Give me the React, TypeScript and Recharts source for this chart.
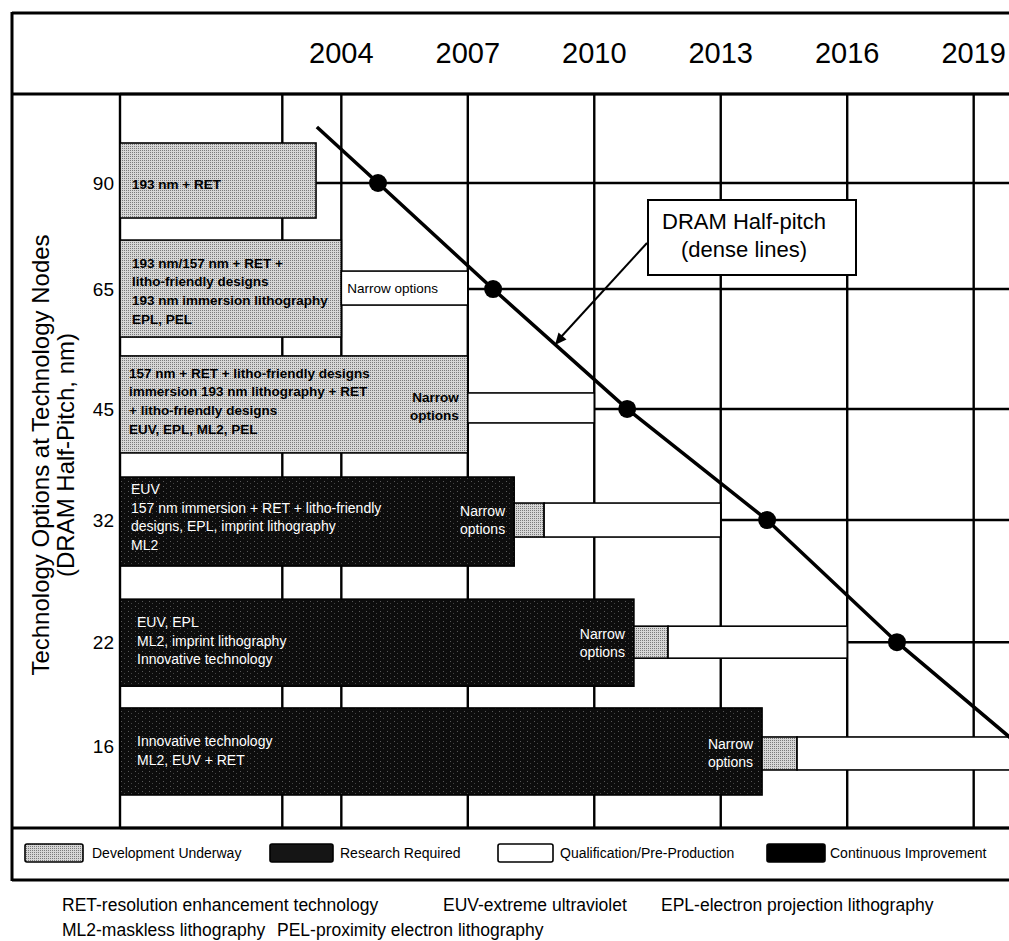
import React from 'react';
import { ComposedChart, XAxis, YAxis, CartesianGrid, ReferenceArea, Line } from 'recharts';

// ---------- data ----------
const nodes = [90, 65, 45, 32, 22, 16];
const yearLabels = [2004, 2007, 2010, 2013, 2016, 2019];
const gridYears = [1998.75, 2002.6, 2004, 2007, 2010, 2013, 2016, 2019];
const X_DOMAIN: [number, number] = [1998.75, 2021];
const Y_DOMAIN: [number, number] = [12.44, 118.26];

// DRAM half-pitch trend line
const trendYears = [2003.42, 2004.87, 2007.6, 2010.78, 2014.1, 2017.18, 2020.1];
const trendNodes = [106.9, 90, 65, 45, 32, 22, 16];
const trendIsNode = [false, true, true, true, true, true, true];

// phases per node row
const mainPhase = ['dev', 'dev', 'dev', 'research', 'research', 'research'];
const mainEnd = [2003.4, 2004, 2007, 2008.1, 2010.94, 2013.98];
const devEnd: (number | null)[] = [null, null, null, 2008.81, 2011.75, 2014.81];
const qualEnd: (number | null)[] = [null, 2007, 2010, 2013, 2016, 2021];
const narrowInQualBox = [false, true, false, false, false, false];
const narrowInMain = [false, false, true, true, true, true];

const optionLines: string[][] = [
  ['193 nm + RET'],
  ['193 nm/157 nm + RET +', 'litho-friendly designs', '193 nm immersion lithography', 'EPL, PEL'],
  ['157 nm + RET + litho-friendly designs', 'immersion 193 nm lithography + RET', '+ litho-friendly designs', 'EUV, EPL, ML2, PEL'],
  ['EUV', '157 nm immersion + RET + litho-friendly', 'designs, EPL, imprint lithography', 'ML2'],
  ['EUV, EPL', 'ML2, imprint lithography', 'Innovative technology'],
  ['Innovative technology', 'ML2, EUV + RET'],
];

const legendNames = ['Development Underway', 'Research Required', 'Qualification/Pre-Production', 'Continuous Improvement'];
const legendKinds = ['dev', 'research', 'qual', 'continuous'];

const footLine1 = ['RET-resolution enhancement technology', 'EUV-extreme ultraviolet', 'EPL-electron projection lithography'];
const footLine2 = ['ML2-maskless lithography', 'PEL-proximity electron lithography'];

const trendData = trendYears.map((year, i) => ({ year, node: trendNodes[i], isNode: trendIsNode[i] }));

// ---------- styles ----------
const FONT = '"Liberation Sans", Arial, Helvetica, sans-serif';
const mainBand = [[40, 35], [49, 48], [53, 44], [43, 46], [43, 44], [38, 49]];
const smallBand = [[0, 0], [18, 16], [16, 14], [17, 17], [16, 16], [9, 24]];
const textPadX = [12, 12, 9, 11, 17, 17];
const textFirst = [41, 23, 17, 12, 23, 33];
const textStep = 18.7;
const narrowDy = [0, 0, -12, -9, -8, -2];

const fillFor = (kind: string) =>
  kind === 'dev' ? 'url(#halftone)' : kind === 'research' ? 'url(#speckle)' : kind === 'qual' ? '#ffffff' : '#000000';

type Seg = { row: number; node: number; kind: string; start: number; end: number; role: 'main' | 'dev' | 'qual' };
const segments: Seg[] = [];
nodes.forEach((node, row) => {
  segments.push({ row, node, kind: mainPhase[row], start: X_DOMAIN[0], end: mainEnd[row], role: 'main' });
  let s = mainEnd[row];
  const d = devEnd[row];
  if (d != null) {
    segments.push({ row, node, kind: 'dev', start: s, end: d, role: 'dev' });
    s = d;
  }
  const q = qualEnd[row];
  if (q != null) segments.push({ row, node, kind: 'qual', start: s, end: q, role: 'qual' });
});

const makeShape = (seg: Seg) => (p: any) => {
  const x = p.x as number;
  const y = p.y as number;
  const w = p.width as number;
  const band = seg.role === 'main' ? mainBand[seg.row] : smallBand[seg.row];
  const top = y - band[0];
  const h = band[0] + band[1];
  const dark = seg.kind === 'research';
  const col = dark ? '#ffffff' : '#000000';
  const weight = dark ? 400 : 700;
  const fs = dark ? 14 : 13.5;
  return (
    <g>
      <rect x={x} y={top} width={w} height={h} fill={fillFor(seg.kind)} stroke="#000" strokeWidth={1.6} />
      {seg.role === 'main' &&
        optionLines[seg.row].map((t, i) => (
          <text key={i} x={x + textPadX[seg.row]} y={top + textFirst[seg.row] + i * textStep} dy="0.35em"
            fontFamily={FONT} fontSize={fs} fontWeight={weight} fill={col}>{t}</text>
        ))}
      {seg.role === 'main' && narrowInMain[seg.row] && (
        <g>
          <text x={x + w - 9} y={y + narrowDy[seg.row]} dy="0.35em" textAnchor="end" fontFamily={FONT}
            fontSize={fs} fontWeight={weight} fill={col}>Narrow</text>
          <text x={x + w - 9} y={y + narrowDy[seg.row] + 18} dy="0.35em" textAnchor="end" fontFamily={FONT}
            fontSize={fs} fontWeight={weight} fill={col}>options</text>
        </g>
      )}
      {seg.role === 'qual' && narrowInQualBox[seg.row] && (
        <text x={x + 6} y={top + h / 2} dy="0.35em" fontFamily={FONT} fontSize={13.5} fill="#000">Narrow options</text>
      )}
    </g>
  );
};

const YearTick = (p: any) => {
  const v = p.payload?.value;
  if (!yearLabels.includes(v)) return <g />;
  return (
    <text x={p.x} y={p.y - 31} textAnchor="middle" fontFamily={FONT} fontSize={29} fill="#000">{v}</text>
  );
};

const NodeTick = (p: any) => (
  <text x={p.x - 6} y={p.y} dy="0.35em" textAnchor="end" fontFamily={FONT} fontSize={19} fill="#000">{p.payload?.value}</text>
);

const TrendDot = (p: any) => {
  if (!p.payload?.isNode) return <g key={p.index} />;
  return <circle key={p.index} cx={p.cx} cy={p.cy} r={9} fill="#000" />;
};

const legendX = [25, 270, 498, 767];
const legendW = [58, 63, 55, 58];
const legendTextX = [92, 340, 560, 830];
const foot1X = [62, 443, 661];
const foot2X = [62, 277];

export default function App() {
  return (
    <div style={{ position: 'absolute', left: 0, top: 0, width: 1009, height: 941, overflow: 'hidden', background: '#fff' }}>
      <div style={{ position: 'absolute', left: 0, top: 0 }}>
        <ComposedChart width={1060} height={941} data={trendData} margin={{ top: 0, right: 2, bottom: 113, left: 0 }}>
          <defs>
            <pattern id="halftone" width="2" height="2" patternUnits="userSpaceOnUse">
              <rect width="2" height="2" fill="#d6d6d6" />
              <rect width="1" height="1" fill="#7a7a7a" />
            </pattern>
            <pattern id="speckle" width="7" height="5" patternUnits="userSpaceOnUse">
              <rect width="7" height="5" fill="#0d0d0d" />
              <rect x="2" y="1" width="1" height="1" fill="#5a5a5a" />
              <rect x="5" y="3" width="1" height="1" fill="#444" />
            </pattern>
          </defs>
          <CartesianGrid stroke="#000" strokeWidth={2.4} />
          <XAxis type="number" dataKey="year" orientation="top" domain={X_DOMAIN} allowDataOverflow
            ticks={gridYears} interval={0} height={94} axisLine={false} tickLine={false} tickSize={0} tickMargin={0}
            tick={<YearTick />} />
          <YAxis type="number" scale="log" domain={Y_DOMAIN} allowDataOverflow ticks={nodes} interval={0}
            width={120} axisLine={false} tickLine={false} tickSize={0} tickMargin={0} tick={<NodeTick />} />
          {segments.map((seg, i) => (
            <ReferenceArea key={i} x1={seg.start} x2={seg.end} y1={seg.node} y2={seg.node}
              ifOverflow="visible" shape={makeShape(seg)} />
          ))}
          <Line dataKey="node" type="linear" stroke="#000" strokeWidth={3.5} dot={TrendDot} activeDot={false}
            isAnimationActive={false} />
        </ComposedChart>
      </div>
      <svg width={1009} height={941} style={{ position: 'absolute', left: 0, top: 0, pointerEvents: 'none' }}>
        <defs>
          <pattern id="halftone2" width="2" height="2" patternUnits="userSpaceOnUse">
            <rect width="2" height="2" fill="#d6d6d6" />
            <rect width="1" height="1" fill="#7a7a7a" />
          </pattern>
        </defs>
        {/* frame */}
        <line x1={12} y1={13} x2={1009} y2={13} stroke="#000" strokeWidth={3} />
        <line x1={12} y1={12} x2={12} y2={881} stroke="#000" strokeWidth={3} />
        <line x1={12} y1={94} x2={1009} y2={94} stroke="#000" strokeWidth={3} />
        <line x1={12} y1={828} x2={1009} y2={828} stroke="#000" strokeWidth={3} />
        <line x1={12} y1={880} x2={1009} y2={880} stroke="#000" strokeWidth={3} />
        {/* y axis title */}
        <g transform="translate(49,455) rotate(-90)">
          <text x={0} y={0} textAnchor="middle" fontFamily={FONT} fontSize={24} fill="#000">Technology Options at Technology Nodes</text>
        </g>
        <g transform="translate(74,455) rotate(-90)">
          <text x={0} y={0} textAnchor="middle" fontFamily={FONT} fontSize={24} fill="#000">(DRAM Half-Pitch, nm)</text>
        </g>
        {/* callout */}
        <line x1={647} y1={243} x2={561} y2={337} stroke="#000" strokeWidth={2} />
        <polygon points="555,345 566.5,339.5 558.5,332.5" fill="#000" />
        <rect x={648} y={200} width={208} height={75} fill="#fff" stroke="#000" strokeWidth={2} />
        <text x={744} y={229} textAnchor="middle" fontFamily={FONT} fontSize={22} fill="#000">DRAM Half-pitch</text>
        <text x={744} y={257} textAnchor="middle" fontFamily={FONT} fontSize={22} fill="#000">(dense lines)</text>
        {/* legend */}
        {legendKinds.map((k, i) => (
          <g key={k}>
            <rect x={legendX[i]} y={844} width={legendW[i]} height={18} rx={2}
              fill={k === 'dev' ? 'url(#halftone2)' : k === 'research' ? '#151515' : k === 'qual' ? '#fff' : '#000'}
              stroke="#000" strokeWidth={1.6} />
            <text x={legendTextX[i]} y={858} fontFamily={FONT} fontSize={14} fill="#000">{legendNames[i]}</text>
          </g>
        ))}
        {/* footnotes */}
        {footLine1.map((t, i) => (
          <text key={t} x={foot1X[i]} y={911} fontFamily={FONT} fontSize={17.5} fill="#000">{t}</text>
        ))}
        {footLine2.map((t, i) => (
          <text key={t} x={foot2X[i]} y={936} fontFamily={FONT} fontSize={17.5} fill="#000">{t}</text>
        ))}
      </svg>
    </div>
  );
}
